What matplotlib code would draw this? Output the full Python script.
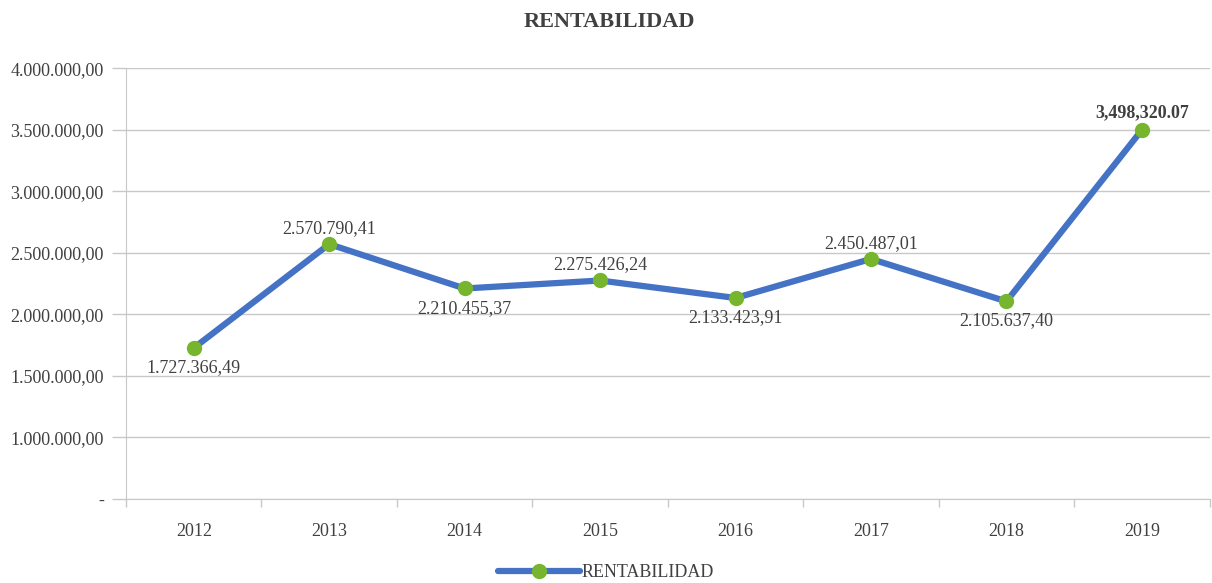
import matplotlib.pyplot as plt
from matplotlib.ticker import FuncFormatter, FixedLocator

# --- Datos ---
years = ["2012", "2013", "2014", "2015", "2016", "2017", "2018", "2019"]
rentabilidad = [1727366.49, 2570790.41, 2210455.37, 2275426.24,
                2133423.91, 2450487.01, 2105637.40, 3498320.07]
label_pos = ["below", "above", "below", "above", "below", "above", "below", "above"]
y_min, y_max, y_step = 500000, 4000000, 500000

plt.rcParams['font.family'] = ['Liberation Serif', 'DejaVu Serif']
text_color = "#404040"
grid_color = "#c8c8c8"


def fmt_es(v, pos=None):
    if v <= y_min:
        return "-"
    s = f"{v:,.2f}"
    return s.replace(",", "X").replace(".", ",").replace("X", ".")


fig = plt.figure(figsize=(12.12, 5.83), dpi=100)
ax = fig.add_axes([0.104, 0.144, 0.894, 0.739])

x = list(range(len(years)))
ax.plot(x, rentabilidad, color="#4472C4", lw=4.5, solid_capstyle="round",
        marker="o", ms=10, mfc="#77B52E", mec="#77B52E", zorder=3,
        label="RENTABILIDAD")

ax.set_xlim(-0.5, len(years) - 0.5)
ax.set_ylim(y_min, y_max)
ax.set_yticks(list(range(y_min, y_max + 1, y_step)))
ax.yaxis.set_major_formatter(FuncFormatter(fmt_es))
ax.grid(axis="y", color=grid_color, lw=1)
ax.set_axisbelow(True)

ax.set_xticks(x)
ax.set_xticklabels(years)
ax.xaxis.set_minor_locator(FixedLocator([i - 0.5 for i in range(len(years) + 1)]))
ax.tick_params(axis="x", which="major", length=0, pad=17, labelsize=13, labelcolor=text_color)
ax.tick_params(axis="x", which="minor", length=6, color=grid_color, width=1)
ax.tick_params(axis="y", length=10, color=grid_color, width=1, pad=6,
               labelsize=13, labelcolor=text_color)

for side in ["top", "right"]:
    ax.spines[side].set_visible(False)
ax.spines["left"].set_color(grid_color)
ax.spines["bottom"].set_color(grid_color)

for i, (v, p) in enumerate(zip(rentabilidad, label_pos)):
    if i == len(years) - 1:
        ax.annotate(f"{v:,.2f}", (i, v), xytext=(0, 6), textcoords="offset points",
                    ha="center", va="bottom", fontsize=13, fontweight="bold", color=text_color)
    elif p == "above":
        ax.annotate(fmt_es(v), (i, v), xytext=(0, 5), textcoords="offset points",
                    ha="center", va="bottom", fontsize=13, color=text_color)
    else:
        ax.annotate(fmt_es(v), (i, v), xytext=(0, -8), textcoords="offset points",
                    ha="center", va="top", fontsize=13, color=text_color)

fig.suptitle("RENTABILIDAD", x=0.503, y=0.98, fontsize=16, fontweight="bold", color=text_color)

leg = fig.legend(loc="lower center", bbox_to_anchor=(0.5, -0.025), frameon=False,
                 fontsize=13, handlelength=4.5, handletextpad=0.1)
for t in leg.get_texts():
    t.set_color(text_color)

fig.savefig("out.png", dpi=100)
